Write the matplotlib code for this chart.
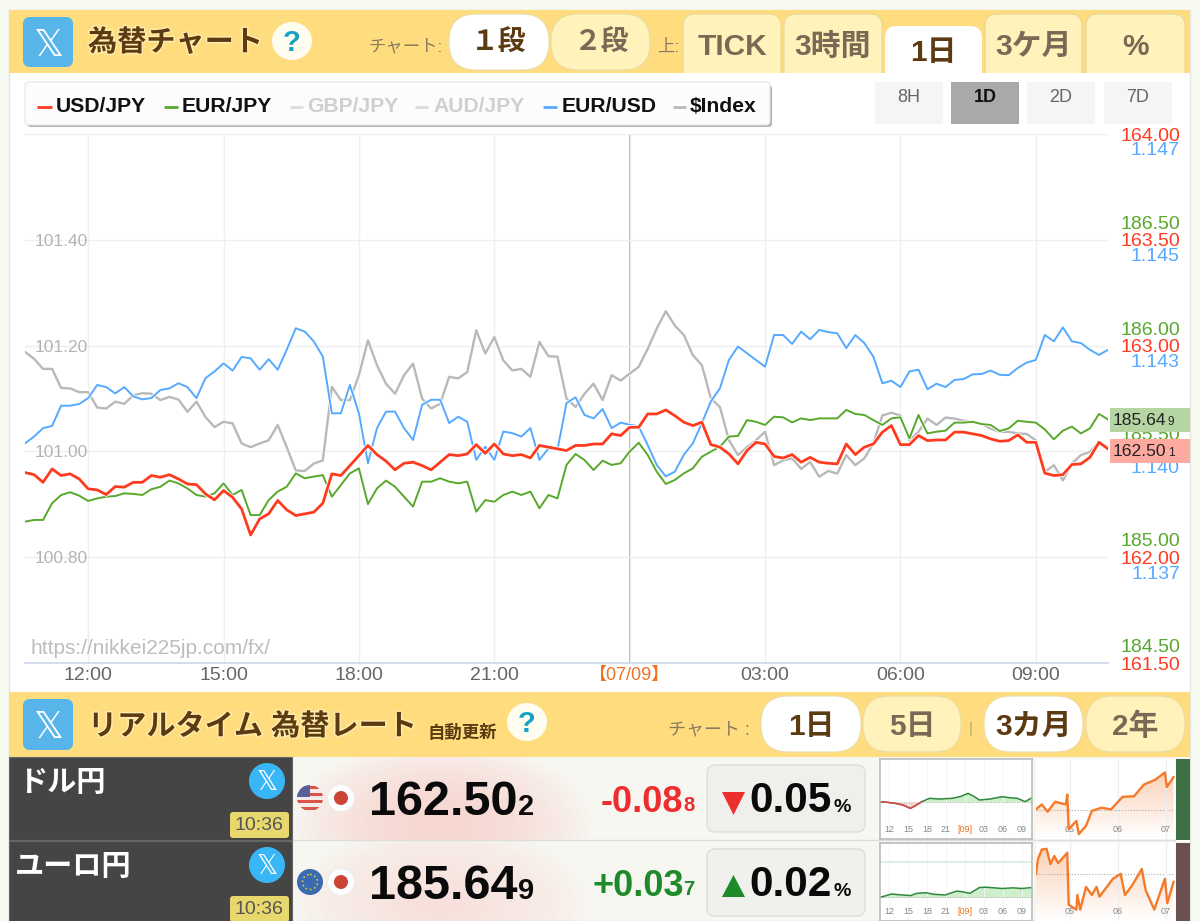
#!/usr/bin/env python
import matplotlib
matplotlib.use("Agg")
import matplotlib.pyplot as plt
import matplotlib.patheffects as pe
import numpy as np
from matplotlib.patches import Rectangle, FancyBboxPatch, Ellipse, Circle, Polygon

plt.rcParams['font.family'] = ['Liberation Sans', 'Noto Sans CJK JP', 'DejaVu Sans']

# one reading every 12 minutes, 10:36 -> 10:36 next day
hours = [10.6 + 0.2 * i for i in range(121)]

usd_jpy = [162.40, 162.39, 162.354, 162.417, 162.386, 162.394, 162.37, 162.323, 162.318, 162.296,
           162.334, 162.331, 162.354, 162.354, 162.386, 162.378, 162.39, 162.37, 162.346, 162.343,
           162.299, 162.271, 162.315, 162.283, 162.228, 162.105, 162.181, 162.205, 162.268, 162.224,
           162.197, 162.205, 162.213, 162.255, 162.394, 162.386, 162.433, 162.48, 162.528, 162.485,
           162.454, 162.413, 162.444, 162.449, 162.433, 162.413, 162.449, 162.485, 162.48, 162.488,
           162.532, 162.491, 162.535, 162.488, 162.48, 162.485, 162.469, 162.528, 162.52, 162.512,
           162.504, 162.528, 162.528, 162.535, 162.535, 162.583, 162.575, 162.614, 162.614, 162.677,
           162.677, 162.696, 162.669, 162.638, 162.622, 162.638, 162.532, 162.52, 162.488, 162.441,
           162.504, 162.543, 162.535, 162.476, 162.469, 162.485, 162.449, 162.472, 162.449, 162.444,
           162.441, 162.535, 162.485, 162.52, 162.535, 162.591, 162.622, 162.532, 162.532, 162.575,
           162.551, 162.554, 162.554, 162.591, 162.591, 162.583, 162.575, 162.559, 162.548, 162.551,
           162.578, 162.543, 162.543, 162.397, 162.386, 162.39, 162.438, 162.441, 162.472, 162.543,
           162.512]

eur_jpy = [185.085, 185.093, 185.093, 185.172, 185.211, 185.224, 185.208, 185.183, 185.195, 185.203,
           185.206, 185.219, 185.216, 185.211, 185.238, 185.25, 185.279, 185.266, 185.242, 185.211,
           185.203, 185.219, 185.266, 185.211, 185.235, 185.116, 185.116, 185.187, 185.227, 185.25,
           185.313, 185.29, 185.298, 185.305, 185.203, 185.258, 185.313, 185.337, 185.168, 185.242,
           185.279, 185.25, 185.203, 185.156, 185.274, 185.274, 185.29, 185.274, 185.266, 185.274,
           185.132, 185.187, 185.179, 185.211, 185.227, 185.211, 185.227, 185.148, 185.211, 185.195,
           185.353, 185.405, 185.376, 185.329, 185.373, 185.353, 185.361, 185.416, 185.458, 185.4,
           185.321, 185.263, 185.282, 185.313, 185.337, 185.392, 185.416, 185.439, 185.487, 185.49,
           185.565, 185.557, 185.542, 185.581, 185.578, 185.554, 185.573, 185.565, 185.573, 185.573,
           185.573, 185.613, 185.594, 185.589, 185.565, 185.542, 185.573, 185.578, 185.479, 185.589,
           185.502, 185.51, 185.515, 185.553, 185.553, 185.557, 185.546, 185.542, 185.513, 185.526,
           185.562, 185.557, 185.553, 185.521, 185.474, 185.515, 185.534, 185.502, 185.526, 185.594,
           185.568]

eur_usd = [1.14004, 1.1402, 1.1404, 1.14045, 1.14093, 1.14093, 1.14097, 1.14111, 1.14142, 1.14137,
           1.14122, 1.14137, 1.14115, 1.14108, 1.14111, 1.1413, 1.14134, 1.14146, 1.14137, 1.14111,
           1.14158, 1.14174, 1.14193, 1.14176, 1.14208, 1.14205, 1.14178, 1.14203, 1.14178, 1.14225,
           1.14276, 1.14268, 1.14245, 1.14209, 1.14075, 1.14075, 1.14142, 1.14075, 1.13957, 1.1404,
           1.14079, 1.14079, 1.1404, 1.14012, 1.14095, 1.14107, 1.14107, 1.14052, 1.14067, 1.14055,
           1.13965, 1.13996, 1.13965, 1.14032, 1.14028, 1.1402, 1.1404, 1.13965, 1.13992, 1.13989,
           1.14099, 1.14113, 1.14071, 1.14063, 1.14085, 1.1404, 1.14053, 1.14048, 1.14044, 1.14,
           1.13953, 1.13926, 1.13937, 1.13977, 1.14004, 1.14052, 1.14103, 1.14134, 1.14201, 1.14233,
           1.14217, 1.14201, 1.14185, 1.1426, 1.1426, 1.14239, 1.14268, 1.1425, 1.14272, 1.14267,
           1.14264, 1.14229, 1.1426, 1.14241, 1.14209, 1.14146, 1.14152, 1.14137, 1.14174, 1.14178,
           1.14132, 1.14145, 1.14137, 1.14154, 1.14156, 1.14167, 1.14168, 1.14176, 1.14166, 1.14165,
           1.14182, 1.14195, 1.14201, 1.1426, 1.14245, 1.14278, 1.14245, 1.14241, 1.14225, 1.14213,
           1.14225]

dollar_index = [101.188, 101.175, 101.156, 101.156, 101.12, 101.119, 101.112, 101.112, 101.083, 101.081,
                101.094, 101.09, 101.106, 101.11, 101.109, 101.097, 101.103, 101.098, 101.075, 101.094,
                101.065, 101.046, 101.056, 101.053, 101.015, 101.008, 101.015, 101.021, 101.05, 101.008,
                100.964, 100.963, 100.977, 100.983, 101.122, 101.097, 101.097, 101.144, 101.21, 101.163,
                101.128, 101.109, 101.144, 101.166, 101.1, 101.081, 101.09, 101.141, 101.138, 101.15,
                101.229, 101.185, 101.216, 101.172, 101.153, 101.156, 101.141, 101.207, 101.18, 101.179,
                101.1, 101.084, 101.109, 101.128, 101.097, 101.144, 101.134, 101.147, 101.16, 101.194,
                101.232, 101.265, 101.238, 101.22, 101.182, 101.163, 101.1, 101.084, 101.021, 100.993,
                101.008, 101.021, 101.037, 100.974, 100.983, 100.987, 100.967, 100.98, 100.952, 100.963,
                100.958, 100.993, 100.974, 100.987, 101.015, 101.068, 101.073, 101.068, 101.021, 101.037,
                101.062, 101.05, 101.064, 101.062, 101.058, 101.056, 101.052, 101.043, 101.037, 101.037,
                101.034, 101.033, 101.021, 100.961, 100.974, 100.945, 100.977, 100.993, 100.999, 101.018,
                101.008]

hour_ticks = [12, 15, 18, 21, 24, 27, 30, 33]
hour_labels = ['12:00', '15:00', '18:00', '21:00', '【07/09】', '03:00', '06:00', '09:00']

index_ticks = [100.8, 101.0, 101.2, 101.4]
index_labels = ['100.80', '101.00', '101.20', '101.40']
usd_ticks = [161.5, 162.0, 162.5, 163.0, 163.5, 164.0]
usd_labels = ['161.50', '162.00', '162.50', '163.00', '163.50', '164.00']
eur_ticks = [184.5, 185.0, 185.5, 186.0, 186.5]
eur_labels = ['184.50', '185.00', '185.50', '186.00', '186.50']
eurusd_ticks = [1.1370, 1.1395, 1.1420, 1.1445, 1.1470]
eurusd_labels = ['1.137', '1.140', '1.143', '1.145', '1.147']

legend_names = ['USD/JPY', 'EUR/JPY', 'GBP/JPY', 'AUD/JPY', 'EUR/USD', '$Index']
range_names = ['8H', '1D', '2D', '7D']

# small charts, change against the dotted base line
day1_hours = [10.6, 11.8, 13, 14.2, 15.4, 16.2, 17.2, 18.4, 20, 22, 23.4, 24.5, 25.4, 26.3, 28, 29.9, 31, 32.3, 33.5, 34.6]
day1_vals = [0.02, 0.0, -0.03, -0.08, -0.18, -0.1, 0.02, 0.12, 0.1, 0.12, 0.18, 0.27, 0.18, 0.07, 0.1, 0.17, 0.14, 0.12, 0.02, 0.14]
day2_hours = [10.6, 11.2, 12.4, 13.6, 15.4, 16.4, 17.8, 19.2, 20.9, 22.7, 23.6, 24.8, 26.3, 27.4, 29.9, 31.6, 33, 34.6]
day2_vals = [0.0, 0.03, 0.10, 0.08, 0.05, 0.12, 0.14, 0.09, 0.07, 0.19, 0.17, 0.12, 0.30, 0.31, 0.27, 0.29, 0.27, 0.30]
qtr1_months = [4.30, 4.42, 4.54, 4.70, 4.92, 4.95, 4.98, 5.14, 5.19, 5.34, 5.46, 5.66, 5.86, 6.10, 6.34, 6.54, 6.78, 6.98, 7.02, 7.16]
qtr1_vals = [0.04, 0.34, -0.10, 0.50, 0.34, 0.94, -1.16, -0.66, -1.46, -0.96, -0.06, 0.14, 0.04, 0.80, 0.84, 1.54, 1.84, 2.28, 1.40, 2.00]
qtr2_months = [4.30, 4.34, 4.42, 4.52, 4.60, 4.68, 4.76, 4.95, 4.98, 5.14, 5.16, 5.22, 5.34, 5.46, 5.56, 5.62, 5.90, 6.06, 6.15, 6.30, 6.50, 6.58, 6.76, 6.98, 7.03, 7.16]
qtr2_vals = [0.0, 0.9, 1.5, 1.54, 0.6, 1.1, 0.66, 1.3, -1.9, -2.2, -1.3, -2.2, -0.8, -1.3, -0.8, -1.4, -0.3, 0.0, -1.3, -0.7, 0.3, -1.0, -2.2, -0.3, -1.8, -0.5]
mini_hour_labels = ['12', '15', '18', '21', '[09]', '03', '06', '09']
mini_months = [5, 6, 7]
mini_month_labels = ['05', '06', '07']

RED = '#ff3b1f'
GREEN = '#58a82c'
BLUE = '#55aaff'
GREY = '#b9b9b9'
HEADER = '#ffdd7f'
CREAM = '#fff2bb'
BROWN = '#5c3a12'
TABTEXT = '#7a6a55'

W, H = 1200, 921


def px_rect(x0, y0, x1, y1):
    return [x0 / W, 1 - y1 / H, (x1 - x0) / W, (y1 - y0) / H]


fig = plt.figure(figsize=(12, 9.21), dpi=100, facecolor='#f6f9f0')

bg = fig.add_axes([0, 0, 1, 1], zorder=0)
bg.set_xlim(0, W)
bg.set_ylim(H, 0)
bg.axis('off')
bg.add_patch(Rectangle((9, 10), 1181, 911, fc='white', ec='#e8e8e0', lw=1))

# main chart, the $Index scale is the base and the others are twins
ax = fig.add_axes(px_rect(25, 134, 1108, 663), zorder=1)
ax.patch.set_visible(False)
ax.set_xlim(10.6, 34.6)
ax.set_ylim(100.6, 101.6)
for s in ['top', 'left', 'right']:
    ax.spines[s].set_visible(False)
ax.spines['bottom'].set_color('#ccd6eb')
ax.spines['bottom'].set_linewidth(1.2)
ax.grid(True, color='#efefef', lw=1)
ax.axhline(101.6, color='#efefef', lw=1)
ax.axvline(24, color='#a8a8a8', lw=1.3, zorder=1.5)
ax.set_xticks(hour_ticks, hour_labels, fontsize=14, color='#666666')
ax.get_xticklabels()[4].set_color('#f07020')
ax.get_xticklabels()[4].set_fontsize(13)
ax.tick_params(axis='x', length=0, pad=3)
ax.set_yticks(index_ticks, index_labels, fontsize=12.5, color='#b4b4b4')
ax.tick_params(axis='y', length=0, pad=-45)
halo = [pe.withStroke(linewidth=3.0, foreground='white')]
ax.plot(hours, dollar_index, color=GREY, lw=1.7, path_effects=halo)


def twin_scale(lim, ticks, labels, color, values, lw):
    tw = ax.twinx()
    tw.set_zorder(ax.get_zorder() + 1)
    tw.set_ylim(*lim)
    tw.set_xlim(10.6, 34.6)
    for s in tw.spines.values():
        s.set_visible(False)
    tw.set_yticks(ticks, labels, fontsize=14, color=color, ha='right')
    tw.tick_params(axis='y', length=0, pad=51.8)
    tw.plot(hours, values, color=color, lw=lw,
            path_effects=[pe.withStroke(linewidth=lw + 1.2, foreground='white')])
    return tw


twin_scale((1.13485, 1.14735), eurusd_ticks, eurusd_labels, BLUE, eur_usd, 1.4)
twin_scale((184.417, 186.917), eur_ticks, eur_labels, GREEN, eur_jpy, 1.4)
tw_usd = twin_scale((161.5, 164.0), usd_ticks, usd_labels, RED, usd_jpy, 2.0)

# page furniture goes on top of everything
fg = fig.add_axes([0, 0, 1, 1], zorder=10)
fg.patch.set_visible(False)
fg.set_xlim(0, W)
fg.set_ylim(H, 0)
fg.axis('off')


def rbox(x0, y0, x1, y1, r, fc, ec='none', lw=0.8, clip=None, z=2):
    p = FancyBboxPatch((x0 + r, y0 + r), x1 - x0 - 2 * r, y1 - y0 - 2 * r,
                       boxstyle='round,pad=%f,rounding_size=%f' % (r, r),
                       fc=fc, ec=ec, lw=lw, zorder=z)
    fg.add_patch(p)
    if clip is not None:
        p.set_clip_path(Rectangle((clip[0], clip[1]), clip[2] - clip[0], clip[3] - clip[1],
                                  transform=fg.transData))
    return p


def txt(x, y, s, size, color='black', weight='normal', ha='center', glow=None, fam=None, z=5):
    t = fg.text(x, y, s, fontsize=size, color=color, fontweight=weight, ha=ha, va='center', zorder=z)
    if fam:
        t.set_family(fam)
    if glow:
        t.set_path_effects([pe.withStroke(linewidth=2, foreground=glow)])
    return t


def x_logo(cx, cy, size):
    return txt(cx, cy, '\U0001D54F', size, color='white', fam='DejaVu Sans')


# top header
fg.add_patch(Rectangle((9, 10), 1181, 63, fc=HEADER, ec='none', zorder=1))
rbox(23, 17, 73, 67, 7, '#57b5ea')
x_logo(48, 46, 27)
txt(88, 43, '為替チャート', 21, BROWN, 'bold', ha='left', glow='#ffeeb0')
fg.add_patch(Ellipse((292, 41), 40, 38, fc='#fffdf0', ec='none', zorder=2))
txt(292, 43, '?', 21, '#14a3c7', 'bold')
txt(368, 47, 'チャート:', 12.5, '#8a7a60', ha='left')
rbox(449, 14, 549, 70, 27, 'white', '#eadca8')
rbox(551, 14, 650, 70, 27, CREAM, '#eadca8')
txt(499, 44, '１段', 20, BROWN, 'bold')
txt(601, 44, '２段', 20, TABTEXT, 'bold')
txt(657, 47, '上:', 12.5, '#8a7a60', ha='left')
tabs = [(683, 781, 'TICK'), (784, 882, '3時間'), (985, 1082, '3ケ月'), (1086, 1185, '%')]
for x0, x1, s in tabs:
    rbox(x0, 14, x1, 95, 12, CREAM, '#e8d596', clip=(x0 - 2, 10, x1 + 2, 73))
    txt((x0 + x1) / 2, 47, s, 21.5, TABTEXT, 'bold')
rbox(885, 26, 982, 95, 12, 'white', clip=(883, 20, 984, 73))
txt(933, 53, '1日', 21.5, BROWN, 'bold')

# legend bar
rbox(27, 85, 772, 127, 4, '#b0b0b0', z=2)
rbox(25, 82, 770, 125, 4, '#fcfcff', '#e6e6e6', z=3)
legend_x = [(37, 52, 56), (164, 178, 182), (290, 303, 307), (415, 428, 433), (543, 557, 562), (673, 686, 690)]
legend_c = [RED, GREEN, '#dcdcdc', '#dcdcdc', BLUE, GREY]
legend_t = ['#111111', '#111111', '#d0d0d0', '#d0d0d0', '#111111', '#111111']
for (x0, x1, xt), name, c, tc in zip(legend_x, legend_names, legend_c, legend_t):
    fg.plot([x0, x1], [107, 107], color=c, lw=2, zorder=4, solid_capstyle='butt')
    txt(xt, 107, name, 15.2, tc, 'bold', ha='left')

# range buttons
btn_x = [875, 951, 1027, 1104]
for x0, name in zip(btn_x, range_names):
    on = name == '1D'
    fg.add_patch(Rectangle((x0, 82), 68, 42, fc='#a9a9a9' if on else '#f5f5f5', ec='none', zorder=2))
    txt(x0 + 34, 97, name, 13, '#111111' if on else '#666666', 'bold' if on else 'normal')

txt(30, 648, 'https://nikkei225jp.com/fx/', 15, '#bdbdbd', ha='left')

# last value boxes
fg.add_patch(Rectangle((1110, 408), 80, 24, fc='#b5d6a3', ec='none', zorder=2))
fg.add_patch(Rectangle((1110, 439), 80, 24, fc='#ffaaa0', ec='none', zorder=2))
txt(1113, 420, '185.64', 12.6, '#222222', ha='left')
txt(1168, 422, '9', 8.5, '#222222', ha='left')
txt(1113, 451, '162.50', 12.6, '#222222', ha='left')
txt(1168, 453, '1', 8.5, '#222222', ha='left')

# second header
fg.add_patch(Rectangle((9, 692), 1181, 65, fc=HEADER, ec='none', zorder=1))
rbox(23, 699, 73, 750, 7, '#57b5ea')
x_logo(48, 728, 27)
txt(88, 727, 'リアルタイム 為替レート', 21, BROWN, 'bold', ha='left', glow='#ffeeb0')
txt(428, 732, '自動更新', 12.5, BROWN, 'bold', ha='left')
fg.add_patch(Ellipse((527, 722), 40, 38, fc='#fffdf0', ec='none', zorder=2))
txt(527, 724, '?', 21, '#14a3c7', 'bold')
txt(668, 730, 'チャート :', 13, '#8a7a60', ha='left')
pills = [(761, 861, '1日', True), (863, 961, '5日', False), (984, 1083, '3カ月', True), (1086, 1185, '2年', False)]
for x0, x1, s, on in pills:
    rbox(x0, 696, x1, 752, 27, 'white' if on else CREAM, '#eadca8')
    txt((x0 + x1) / 2, 727, s, 21.5, BROWN if on else TABTEXT, 'bold')
txt(971, 729, '|', 11, '#b5a57a')

# rate rows
rows = [
    dict(y0=757, y1=840, name='ドル円', name_x=18, price='162.50', small='2',
         chg='-0.08', chg_s='8', chg_x=601, chg_c='#ee2e2e', pct='0.05', up=False,
         bar='#3f6f44', glow='#f9cfcb', box='#f1efec'),
    dict(y0=841, y1=921, name='ユーロ円', name_x=15, price='185.64', small='9',
         chg='+0.03', chg_s='7', chg_x=593, chg_c='#1f8a2a', pct='0.02', up=True,
         bar='#6b5050', glow='#f9dfdb', box='#f0f0ec'),
]

for row in rows:
    y0, y1 = row['y0'], row['y1']
    mid = y0 + 43
    body = Rectangle((292, y0), 898, y1 - y0, fc='#f7f7f2', ec='none', zorder=1)
    fg.add_patch(body)
    clip_row = Rectangle((292, y0), 310, y1 - y0, transform=fg.transData)
    for k in range(18):
        e = Ellipse((440, y1 - 18), 300 - 15 * k, 160 - 8 * k, fc=row['glow'], ec='none', alpha=0.07, zorder=1.2, lw=0)
        fg.add_patch(e)
        e.set_clip_path(clip_row)
    fg.plot([292, 1175], [y1, y1], color='#dddddd', lw=1, zorder=1.5)
    fg.add_patch(Rectangle((9, y0), 283, y1 - y0, fc='#454545', ec='#666666', lw=0.8, zorder=2))
    txt(row['name_x'], y0 + 26, row['name'], 21, 'white', 'bold', ha='left')
    fg.add_patch(Circle((267, y0 + 24), 18, fc='#38b6f6', ec='none', zorder=3))
    x_logo(267, y0 + 26, 19)
    rbox(230, y0 + 55, 289, y0 + 81, 3, '#e8d76c', z=3)
    txt(259, y0 + 68, '10:36', 14, '#555555')
    # flags
    fg.add_patch(Circle((341, mid - 2), 13.5, fc='white', ec='#eeeeee', zorder=3))
    fg.add_patch(Circle((341, mid - 2), 7, fc='#cc4433', ec='none', zorder=4))
    if row['up']:
        fg.add_patch(Circle((310, mid - 2), 13, fc='#3a6ab0', ec='none', zorder=3))
        fg.add_patch(Circle((310, mid - 2), 7.5, fc='none', ec='#d8c850', lw=1.2, ls=':', zorder=4))
    else:
        fg.add_patch(Circle((310, mid - 2), 13, fc='#f5eaea', ec='none', zorder=3))
        flag_clip = Circle((310, mid - 2), 13, transform=fg.transData)
        for k in range(4):
            r = fg.add_patch(Rectangle((296, mid - 14 + 7 * k), 28, 3, fc='#d9534a', ec='none', zorder=4))
            r.set_clip_path(flag_clip)
        r = fg.add_patch(Rectangle((296, mid - 16), 14, 13, fc='#56609a', ec='none', zorder=4.5))
        r.set_clip_path(flag_clip)
    txt(369, mid + 2, row['price'], 35, '#0a0a0a', 'bold', ha='left')
    txt(518, mid + 7, row['small'], 21, '#0a0a0a', 'bold', ha='left')
    txt(row['chg_x'], mid + 2, row['chg'], 26, row['chg_c'], 'bold', ha='left')
    txt(683, mid + 5, row['chg_s'], 14.5, row['chg_c'], 'bold', ha='left')
    rbox(707, y0 + 8, 865, y0 + 75, 8, row['box'], '#dddddd', lw=1)
    if row['up']:
        fg.add_patch(Polygon([(722, mid + 13), (745, mid + 13), (733.5, mid - 9)], fc='#1f8a2a', ec='none', zorder=4))
    else:
        fg.add_patch(Polygon([(722, mid - 8), (745, mid - 8), (733.5, mid + 15)], fc='#ee2e2e', ec='none', zorder=4))
    txt(749, mid + 1, row['pct'], 30.5, '#0a0a0a', 'bold', ha='left')
    txt(834, mid + 7, '%', 14, '#0a0a0a', 'bold', ha='left')
    fg.add_patch(Rectangle((1176, y0 + 2), 14, y1 - y0 - 2, fc=row['bar'], ec='none', zorder=2))


def day_mini(y0, y1, xs, ys, ylim, top_line=None):
    m = fig.add_axes(px_rect(880, y0, 1032, y1), zorder=11)
    m.set_xlim(10.6, 34.6)
    m.set_ylim(*ylim)
    m.set_facecolor('white')
    for s in m.spines.values():
        s.set_color('#bbbbbb')
        s.set_linewidth(1.2)
    m.grid(True, axis='x', color='#f4f4f4', lw=0.7)
    m.axhline(0, color='#aaaaaa', lw=0.7, ls=':')
    if top_line is not None:
        m.axhline(top_line, color='#dcefe0', lw=1.5)
    m.fill_between(xs, ys, 0, where=[v >= 0 for v in ys], color='#cfeecb', interpolate=True, lw=0)
    m.fill_between(xs, ys, 0, where=[v <= 0 for v in ys], color='#f8d0d0', interpolate=True, lw=0)
    m.plot(xs, ys, color='#2d8a3c', lw=1.1)
    neg = [v if v <= 0.02 else float('nan') for v in ys]
    m.plot(xs, neg, color='#e0474c', lw=1.1)
    m.set_yticks([])
    m.set_xticks(hour_ticks, mini_hour_labels, fontsize=6.5, color='#888888')
    m.get_xticklabels()[4].set_color('#f07020')
    m.tick_params(axis='x', length=0, pad=-10)
    return m


def qtr_mini(y0, y1, xs, ys, ylim, base):
    m = fig.add_axes(px_rect(1036, y0, 1175, y1), zorder=11)
    m.set_xlim(4.30, 7.19)
    m.set_ylim(*ylim)
    m.set_facecolor('white')
    for s in m.spines.values():
        s.set_visible(False)
    m.grid(True, axis='x', color='#ececec', lw=0.8)
    # fill fades out to the bottom of the box
    shade = np.zeros((64, 1, 4))
    shade[:, 0, :3] = matplotlib.colors.to_rgb('#f79a5e')
    shade[:, 0, 3] = np.linspace(0.45, 0.0, 64)
    area = m.fill_between(xs, ys, ylim[0], color='none', lw=0)
    img = m.imshow(shade, extent=[4.30, 7.19, ylim[0], max(ys)], aspect='auto', origin='upper', zorder=1.2)
    img.set_clip_path(area.get_paths()[0], transform=m.transData)
    m.set_xlim(4.30, 7.19)
    m.set_ylim(*ylim)
    m.axhline(base, color='#aaaaaa', lw=0.8, ls=':', zorder=1.4)
    m.plot(xs, ys, color='#f47a2a', lw=1.7, zorder=2)
    m.set_yticks([])
    m.set_xticks(mini_months, mini_month_labels, fontsize=6.5, color='#888888')
    m.tick_params(axis='x', length=0, pad=-10)
    return m


day_mini(759, 839, day1_hours, day1_vals, (-1.10, 1.30))
day_mini(843, 921, day2_hours, day2_vals, (-0.73, 1.67), top_line=1.10)
qtr_mini(759, 839, qtr1_months, qtr1_vals, (-1.76, 3.10), 0)
qtr_mini(843, 921, qtr2_months, qtr2_vals, (-2.9, 1.9), 0)

fig.savefig('out.png', dpi=100, facecolor=fig.get_facecolor())
